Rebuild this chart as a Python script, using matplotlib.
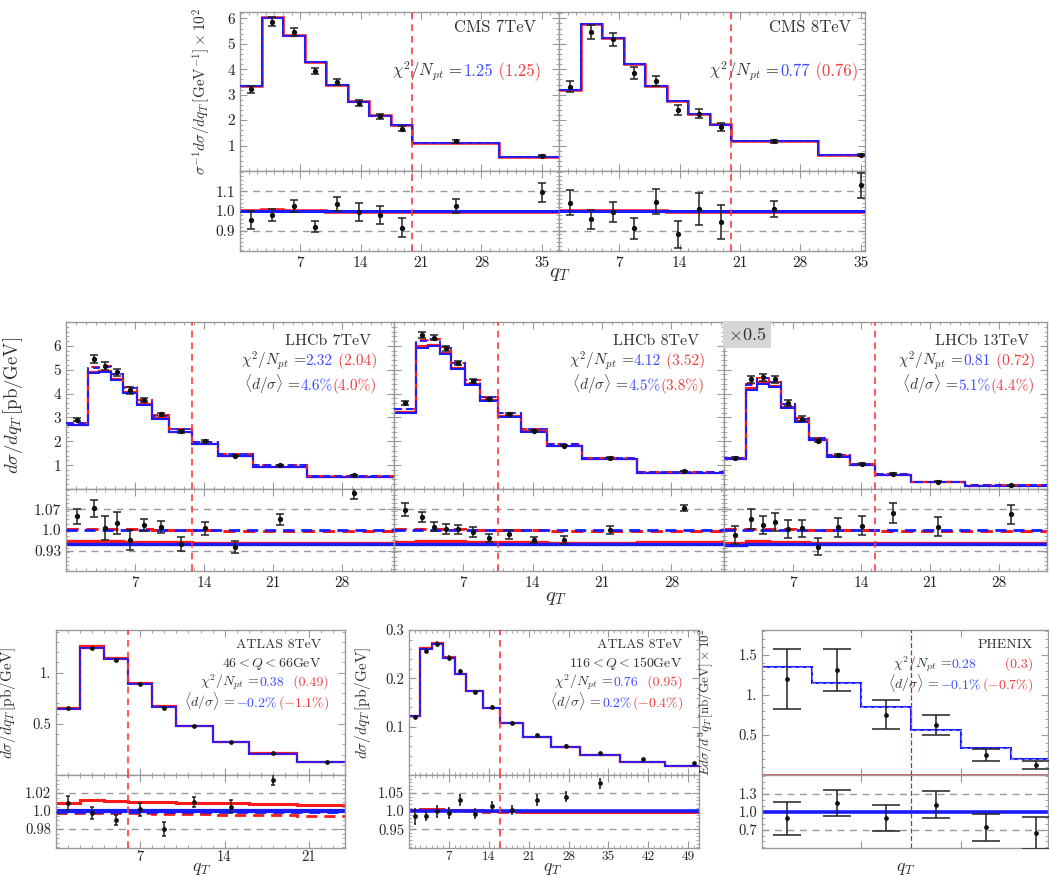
import matplotlib
matplotlib.use("Agg")
import matplotlib.pyplot as plt
from matplotlib.ticker import FixedLocator, FixedFormatter, MultipleLocator, NullFormatter

plt.rcParams["font.family"] = ["cmr10", "DejaVu Serif"]
plt.rcParams["mathtext.fontset"] = "cm"
plt.rcParams["axes.unicode_minus"] = False

# ---------------- data ----------------
# CMS (normalised, x 10^2)
cms_edges = [0, 2.5, 5, 7.5, 10, 12.5, 15, 17.5, 20, 30, 40]
cms_x = [1.25, 3.75, 6.25, 8.75, 11.25, 13.75, 16.25, 18.75, 25, 35]

cms7_data = [3.21, 5.87, 5.45, 3.93, 3.50, 2.69, 2.16, 1.66, 1.16, 0.60]
cms7_err = [0.15, 0.18, 0.16, 0.13, 0.12, 0.12, 0.10, 0.09, 0.04, 0.03]
cms7_blue = [3.35, 6.00, 5.32, 4.27, 3.38, 2.73, 2.18, 1.79, 1.12, 0.55]
cms7_red = [3.36, 6.05, 5.34, 4.28, 3.39, 2.74, 2.19, 1.80, 1.12, 0.55]
cms7_ratio = [0.954, 0.980, 1.026, 0.920, 1.035, 0.995, 0.980, 0.915, 1.025, 1.096]
cms7_ratio_err = [0.045, 0.030, 0.030, 0.030, 0.035, 0.045, 0.045, 0.050, 0.035, 0.050]
cms7_ratio_red = [1.000, 1.003, 1.001, 1.000, 0.997, 0.997, 0.997, 0.997, 0.997, 0.997]

cms8_data = [3.32, 5.47, 5.18, 3.84, 3.54, 2.40, 2.25, 1.73, 1.16, 0.64]
cms8_err = [0.20, 0.27, 0.26, 0.23, 0.21, 0.19, 0.18, 0.16, 0.05, 0.04]
cms8_blue = [3.19, 5.76, 5.22, 4.21, 3.35, 2.76, 2.24, 1.82, 1.16, 0.61]
cms8_red = [3.20, 5.78, 5.24, 4.22, 3.36, 2.77, 2.25, 1.83, 1.16, 0.61]
cms8_ratio = [1.043, 0.957, 0.993, 0.911, 1.048, 0.880, 1.010, 0.945, 1.010, 1.133]
cms8_ratio_err = [0.064, 0.048, 0.051, 0.055, 0.063, 0.070, 0.080, 0.087, 0.042, 0.064]
cms8_ratio_red = [1.000, 1.002, 1.001, 1.000, 0.998, 0.997, 0.997, 0.997, 0.997, 0.997]

# LHCb
lhcb_edges = [0, 2.2, 3.4, 4.6, 5.8, 7.2, 8.7, 10.5, 12.8, 15.4, 19.0, 24.5, 34.0]
lhcb_x = [1.1, 2.8, 4.0, 5.2, 6.5, 7.95, 9.6, 11.65, 14.1, 17.2, 21.75, 29.25]

lhcb7_data = [2.90, 5.45, 5.17, 4.89, 4.13, 3.74, 3.14, 2.42, 2.00, 1.40, 1.00, 0.58]
lhcb7_err = [0.07, 0.15, 0.17, 0.16, 0.13, 0.08, 0.06, 0.06, 0.04, 0.03, 0.02, 0.012]
lhcb7_blue_dash = [2.77, 5.08, 5.13, 4.82, 4.25, 3.70, 3.08, 2.53, 1.97, 1.47, 1.00, 0.54]
lhcb7_red_dash = [2.78, 5.10, 5.15, 4.83, 4.26, 3.71, 3.09, 2.53, 1.97, 1.46, 0.99, 0.54]
lhcb7_blue = [2.67, 4.85, 4.90, 4.57, 4.02, 3.53, 2.95, 2.38, 1.89, 1.37, 0.93, 0.50]
lhcb7_red = [2.69, 4.90, 4.95, 4.62, 4.07, 3.56, 2.97, 2.40, 1.90, 1.38, 0.94, 0.51]
lhcb7_ratio = [1.047, 1.073, 1.006, 1.023, 0.966, 1.017, 1.009, 0.952, 1.006, 0.942, 1.036, 1.124]
lhcb7_ratio_err = [0.025, 0.028, 0.040, 0.037, 0.033, 0.021, 0.020, 0.024, 0.022, 0.020, 0.019, 0.020]
lhcb7_ratio_red_dash = [1.003, 1.004, 1.004, 1.003, 1.002, 1.002, 1.001, 1.000, 0.999, 0.997, 0.995, 0.997]
lhcb7_ratio_blue = [0.953, 0.953, 0.953, 0.953, 0.953, 0.953, 0.953, 0.953, 0.953, 0.953, 0.953, 0.953]
lhcb7_ratio_red = [0.962, 0.963, 0.963, 0.962, 0.961, 0.960, 0.959, 0.958, 0.957, 0.956, 0.955, 0.957]

lhcb8_data = [3.60, 6.45, 6.35, 5.89, 5.27, 4.54, 3.77, 3.14, 2.45, 1.82, 1.31, 0.75]
lhcb8_err = [0.08, 0.11, 0.10, 0.10, 0.08, 0.08, 0.05, 0.05, 0.03, 0.025, 0.02, 0.01]
lhcb8_blue_dash = [3.35, 6.21, 6.28, 5.93, 5.29, 4.57, 3.87, 3.18, 2.52, 1.90, 1.31, 0.71]
lhcb8_red_dash = [3.36, 6.24, 6.30, 5.95, 5.30, 4.58, 3.87, 3.18, 2.52, 1.89, 1.30, 0.70]
lhcb8_blue = [3.20, 5.89, 5.98, 5.64, 5.03, 4.36, 3.69, 3.03, 2.41, 1.81, 1.25, 0.67]
lhcb8_red = [3.22, 5.98, 6.05, 5.70, 5.07, 4.40, 3.72, 3.05, 2.42, 1.82, 1.25, 0.68]
lhcb8_ratio = [1.068, 1.045, 1.011, 1.002, 1.002, 0.994, 0.972, 0.985, 0.966, 0.966, 1.000, 1.075]
lhcb8_ratio_err = [0.022, 0.017, 0.015, 0.017, 0.016, 0.017, 0.013, 0.015, 0.011, 0.013, 0.014, 0.011]
lhcb8_ratio_red_dash = [1.002, 1.004, 1.003, 1.003, 1.002, 1.001, 1.000, 1.000, 0.999, 0.998, 0.996, 0.996]
lhcb8_ratio_blue = [0.953, 0.953, 0.953, 0.953, 0.953, 0.953, 0.953, 0.953, 0.953, 0.953, 0.953, 0.953]
lhcb8_ratio_red = [0.960, 0.963, 0.964, 0.963, 0.962, 0.961, 0.960, 0.959, 0.958, 0.957, 0.956, 0.958]

lhcb13_data = [1.31, 4.60, 4.68, 4.60, 3.60, 2.95, 2.03, 1.42, 1.06, 0.63, 0.31, 0.15]
lhcb13_err = [0.04, 0.15, 0.15, 0.15, 0.11, 0.09, 0.06, 0.05, 0.035, 0.02, 0.01, 0.005]
lhcb13_blue_dash = [1.30, 4.38, 4.64, 4.49, 3.56, 2.95, 2.14, 1.43, 1.05, 0.62, 0.31, 0.15]
lhcb13_red_dash = [1.31, 4.40, 4.66, 4.50, 3.57, 2.96, 2.14, 1.43, 1.05, 0.62, 0.31, 0.15]
lhcb13_blue = [1.24, 4.17, 4.42, 4.28, 3.39, 2.81, 2.04, 1.36, 1.00, 0.59, 0.30, 0.14]
lhcb13_red = [1.25, 4.22, 4.47, 4.32, 3.42, 2.83, 2.05, 1.37, 1.01, 0.59, 0.30, 0.14]
lhcb13_ratio = [0.983, 1.036, 1.017, 1.028, 1.003, 1.006, 0.944, 1.009, 1.014, 1.058, 1.011, 1.053]
lhcb13_ratio_err = [0.031, 0.034, 0.031, 0.031, 0.031, 0.029, 0.028, 0.032, 0.032, 0.034, 0.032, 0.032]
lhcb13_ratio_red_dash = [1.002, 1.004, 1.004, 1.003, 1.002, 1.001, 1.000, 1.000, 0.999, 0.998, 0.997, 0.997]
lhcb13_ratio_blue = [0.950, 0.953, 0.953, 0.953, 0.953, 0.953, 0.953, 0.953, 0.953, 0.953, 0.953, 0.953]
lhcb13_ratio_red = [0.957, 0.962, 0.962, 0.960, 0.960, 0.958, 0.957, 0.956, 0.956, 0.956, 0.956, 0.956]

# ATLAS 8TeV, 46<Q<66
atl_lo_edges = [0, 2, 4, 6, 8, 10, 13, 16, 20, 25]
atl_lo_x = [1, 3, 5, 7, 9, 11.5, 14.5, 18, 22.5]
atl_lo_data = [0.650, 1.235, 1.120, 0.890, 0.655, 0.480, 0.320, 0.210, 0.130]
atl_lo_err = [0.005, 0.008, 0.006, 0.006, 0.005, 0.003, 0.002, 0.0015, 0.001]
atl_lo_blue = [0.645, 1.240, 1.130, 0.890, 0.665, 0.475, 0.318, 0.208, 0.122]
atl_lo_red = [0.650, 1.255, 1.145, 0.900, 0.672, 0.480, 0.321, 0.210, 0.123]
atl_lo_ratio = [1.009, 0.998, 0.990, 1.002, 0.980, 1.010, 1.005, 1.035, 1.060]
atl_lo_ratio_err = [0.008, 0.007, 0.0055, 0.0074, 0.008, 0.006, 0.007, 0.006, 0.008]
atl_lo_ratio_red = [1.009, 1.012, 1.011, 1.0105, 1.0095, 1.009, 1.0085, 1.008, 1.007]
atl_lo_ratio_red_dash = [0.998, 0.998, 0.998, 0.998, 0.997, 0.997, 0.996, 0.996, 0.995]

# ATLAS 8TeV, 116<Q<150
atl_hi_edges = [0, 2, 4, 6, 8, 10, 13, 16, 20, 25, 30, 37, 45, 55]
atl_hi_x = [1, 3, 5, 7, 9, 11.5, 14.5, 18, 22.5, 27.5, 33.5, 41, 50]
atl_hi_data = [0.120, 0.257, 0.272, 0.243, 0.215, 0.172, 0.140, 0.108, 0.082, 0.061, 0.045, 0.033, 0.024]
atl_hi_err = [0.002, 0.003, 0.004, 0.003, 0.003, 0.002, 0.002, 0.0015, 0.0012, 0.001, 0.0008, 0.0006, 0.0005]
atl_hi_blue = [0.122, 0.260, 0.272, 0.243, 0.208, 0.174, 0.138, 0.108, 0.079, 0.058, 0.042, 0.027, 0.018]
atl_hi_red = [0.123, 0.262, 0.274, 0.244, 0.209, 0.174, 0.138, 0.108, 0.079, 0.058, 0.042, 0.027, 0.018]
atl_hi_ratio = [0.986, 0.986, 1.000, 0.995, 1.031, 0.993, 1.014, 1.003, 1.031, 1.040, 1.077, 1.220, 1.330]
atl_hi_ratio_err = [0.021, 0.011, 0.015, 0.013, 0.013, 0.012, 0.012, 0.012, 0.015, 0.013, 0.013, 0.015, 0.020]
atl_hi_ratio_red = [1.004, 1.006, 1.006, 1.004, 1.003, 1.002, 1.001, 1.000, 0.999, 0.999, 0.999, 0.999, 0.999]
atl_hi_ratio_red_dash = [1.002, 1.003, 1.003, 1.002, 1.001, 1.000, 0.999, 0.998, 0.997, 0.997, 0.997, 0.997, 0.997]

# PHENIX
phx_edges = [0, 1, 2, 3, 4, 5, 6]
phx_x = [0.5, 1.5, 2.5, 3.5, 4.5, 5.5]
phx_data = [1.20, 1.31, 0.75, 0.625, 0.25, 0.125]
phx_err = [0.375, 0.26, 0.18, 0.13, 0.08, 0.045]
phx_blue = [1.35, 1.154, 0.846, 0.559, 0.34, 0.196]
phx_red = [0.006, 0.006, 0.005, 0.005, 0.005, 0.005]
phx_ratio = [0.89, 1.145, 0.89, 1.12, 0.74, 0.64]
phx_ratio_err = [0.28, 0.22, 0.22, 0.23, 0.23, 0.27]

# ---------------- style ----------------
W, H = 1049, 877
BLUE = "#1a1aff"
RED = "#ff1a1a"
TBLUE = "#3a4dff"
TRED = "#f03c3c"
TXT = "#333333"
FRAME = "#999999"
CUT = "#ff3b3b"

fig = plt.figure(figsize=(W / 100, H / 100), dpi=100)


def rect(x0, x1, y0, y1):
    return [x0 / W, 1 - y1 / H, (x1 - x0) / W, (y1 - y0) / H]


def style(ax, fs):
    for sp in ax.spines.values():
        sp.set_color(FRAME)
        sp.set_linewidth(1.0)
    ax.tick_params(which="both", direction="in", top=True, right=True,
                   color=FRAME, labelcolor="#222222", labelsize=fs)
    ax.tick_params(which="major", length=5, width=0.8)
    ax.tick_params(which="minor", length=2.5, width=0.6)


def panel(x0, x1, ytop, ysplit, ybot, xlim, ylim, rlim, fs=11):
    axm = fig.add_axes(rect(x0, x1, ytop, ysplit))
    axr = fig.add_axes(rect(x0, x1, ysplit, ybot))
    for ax in (axm, axr):
        style(ax, fs)
        ax.set_xlim(*xlim)
    axm.set_ylim(*ylim)
    axr.set_ylim(*rlim)
    axm.xaxis.set_major_formatter(NullFormatter())
    return axm, axr


def ticks(ax, axis, major, labels, minor=None):
    a = ax.xaxis if axis == "x" else ax.yaxis
    a.set_major_locator(FixedLocator(major))
    if labels is None:
        a.set_major_formatter(NullFormatter())
    else:
        a.set_major_formatter(FixedFormatter(labels))
    if minor is not None:
        a.set_minor_locator(MultipleLocator(minor))


def theory(ax, edges, vals, color, dashed=False, lw=1.6, z=2, alpha=1.0):
    ls = (0, (4, 2.5)) if dashed else "-"
    ax.stairs(vals, edges, baseline=None, color=color, lw=lw, ls=ls, zorder=z, alpha=alpha)


def points(ax, x, y, err, cap=3, ms=2.8):
    ax.errorbar(x, y, yerr=err, fmt="o", ms=ms, color="#111111", ecolor="#222222",
                elinewidth=1.1, capsize=cap, capthick=1.1, zorder=5)


def guides(axr, lo, hi):
    for v in (lo, hi):
        axr.axhline(v, color="#999999", lw=1.0, ls=(0, (5, 4)), zorder=1)


def cut(axes, x, lw=1.2):
    for ax in axes:
        ax.axvline(x, color=CUT, lw=lw, ls=(0, (4, 3)), zorder=6)


def chain(ax, x, y, parts, fs):
    prev = None
    for s, c in reversed(parts):
        if prev is None:
            prev = ax.text(x / W, 1 - y / H, s, color=c, fontsize=fs, ha="right",
                           va="baseline", transform=fig.transFigure)
        else:
            prev = ax.annotate(s, xy=(0, 1 - y / H), xycoords=(prev, "figure fraction"),
                               color=c, fontsize=fs, ha="right", va="baseline",
                               annotation_clip=False)


# ---------------- row 1: CMS ----------------
c7m, c7r = panel(240, 559, 12, 171, 251, (0, 37), (0, 6.25), (0.795, 1.205))
c8m, c8r = panel(559, 865, 12, 171, 251, (0, 35.5), (0, 6.25), (0.795, 1.205))
for axm, axr, lab in ((c7m, c7r, True), (c8m, c8r, False)):
    ticks(axm, "y", [1, 2, 3, 4, 5, 6], ["1", "2", "3", "4", "5", "6"] if lab else None, 0.2)
    ticks(axr, "y", [0.9, 1.0, 1.1], ["0.9", "1.0", "1.1"] if lab else None, 0.02)
    ticks(axm, "x", [7, 14, 21, 28, 35], None, 1)
    ticks(axr, "x", [7, 14, 21, 28, 35], ["7", "14", "21", "28", "35"], 1)
    guides(axr, 0.9, 1.1)

for axm, axr, data, err, blue, red, rat, rerr, rred in (
        (c7m, c7r, cms7_data, cms7_err, cms7_blue, cms7_red, cms7_ratio, cms7_ratio_err, cms7_ratio_red),
        (c8m, c8r, cms8_data, cms8_err, cms8_blue, cms8_red, cms8_ratio, cms8_ratio_err, cms8_ratio_red)):
    theory(axm, cms_edges, red, RED, lw=1.8)
    theory(axm, cms_edges, blue, BLUE, lw=1.5, z=3)
    theory(axm, cms_edges, blue, RED, dashed=True, lw=1.0, z=3.5, alpha=0.35)
    points(axm, cms_x, data, err)
    theory(axr, cms_edges, rred, RED, lw=2.6)
    theory(axr, cms_edges, [1.0] * len(cms_x), BLUE, lw=2.2, z=3)
    points(axr, cms_x, rat, rerr)
    cut((axm, axr), 20)

c7m.set_ylabel(r"$\sigma^{-1}d\sigma/dq_T\,[\mathrm{GeV}^{-1}]\times10^2$", fontsize=11, color=TXT)
c7m.yaxis.set_label_coords(-0.085, 0.5)
fig.text(560 / W, 1 - 274 / H, r"$q_T$", fontsize=15, ha="center", va="center", color=TXT)

chain(c7m, 536, 32, [("CMS 7TeV", TXT)], 12)
chain(c7m, 541, 76, [(r"$\chi^2/N_{pt}$ =", TXT), ("1.25", TBLUE), (" (1.25)", TRED)], 12)
chain(c8m, 851, 32, [("CMS 8TeV", TXT)], 12)
chain(c8m, 858, 76, [(r"$\chi^2/N_{pt}$ =", TXT), ("0.77", TBLUE), (" (0.76)", TRED)], 12)

# ---------------- row 2: LHCb ----------------
l7m, l7r = panel(66, 394, 322, 489, 571, (0, 33.3), (0, 7), (0.861, 1.139))
l8m, l8r = panel(394, 724, 322, 489, 571, (0, 33.3), (0, 7), (0.861, 1.139))
l13m, l13r = panel(724, 1047, 322, 489, 571, (0, 32.9), (0, 7), (0.861, 1.139))

lhcb_sets = (
    (l7m, l7r, True, lhcb7_data, lhcb7_err, lhcb7_blue_dash, lhcb7_red_dash, lhcb7_blue, lhcb7_red,
     lhcb7_ratio, lhcb7_ratio_err, lhcb7_ratio_red_dash, lhcb7_ratio_blue, lhcb7_ratio_red, 12.8),
    (l8m, l8r, False, lhcb8_data, lhcb8_err, lhcb8_blue_dash, lhcb8_red_dash, lhcb8_blue, lhcb8_red,
     lhcb8_ratio, lhcb8_ratio_err, lhcb8_ratio_red_dash, lhcb8_ratio_blue, lhcb8_ratio_red, 10.5),
    (l13m, l13r, False, lhcb13_data, lhcb13_err, lhcb13_blue_dash, lhcb13_red_dash, lhcb13_blue, lhcb13_red,
     lhcb13_ratio, lhcb13_ratio_err, lhcb13_ratio_red_dash, lhcb13_ratio_blue, lhcb13_ratio_red, 15.4),
)
for (axm, axr, lab, data, err, bd, rd, bs, rs, rat, rerr, rrd, rbs, rrs, xc) in lhcb_sets:
    ticks(axm, "y", [1, 2, 3, 4, 5, 6], ["1", "2", "3", "4", "5", "6"] if lab else None, 0.2)
    ticks(axr, "y", [0.93, 1.0, 1.07], ["0.93", "1.0", "1.07"] if lab else None, 0.014)
    ticks(axm, "x", [7, 14, 21, 28], None, 1)
    ticks(axr, "x", [7, 14, 21, 28], ["7", "14", "21", "28"], 1)
    guides(axr, 0.93, 1.07)
    theory(axm, lhcb_edges, rs, RED, lw=1.6)
    theory(axm, lhcb_edges, bs, BLUE, lw=1.5, z=2.2)
    theory(axm, lhcb_edges, rd, RED, dashed=True, lw=1.5, z=2.4)
    theory(axm, lhcb_edges, bd, BLUE, dashed=True, lw=1.3, z=2.6)
    points(axm, lhcb_x, data, err)
    theory(axr, lhcb_edges, rrs, RED, lw=2.4)
    theory(axr, lhcb_edges, rbs, BLUE, lw=2.4, z=2.2)
    theory(axr, lhcb_edges, rrd, RED, dashed=True, lw=2.2, z=2.4)
    theory(axr, lhcb_edges, [1.0] * len(lhcb_x), BLUE, dashed=True, lw=2.0, z=2.6)
    points(axr, lhcb_x, rat, rerr)
    cut((axm, axr), xc)

l7m.set_ylabel(r"$d\sigma/dq_T\,[\mathrm{pb/GeV}]$", fontsize=13.5, color=TXT)
l7m.yaxis.set_label_coords(-0.125, 0.5)
fig.text(556 / W, 1 - 598 / H, r"$q_T$", fontsize=15, ha="center", va="center", color=TXT)
l13m.text(0.013, 0.975, r"$\times$0.5", transform=l13m.transAxes, ha="left", va="top",
          fontsize=13, color=TXT, bbox=dict(facecolor="#d6d6d6", edgecolor="none", pad=3.5))

for axm, xr, title, chi_b, chi_r, d_b, d_r in (
        (l7m, 377, "LHCb 7TeV", "2.32", " (2.04)", "4.6%", "(4.0%)"),
        (l8m, 705, "LHCb 8TeV", "4.12", " (3.52)", "4.5%", "(3.8%)"),
        (l13m, 1035, "LHCb 13TeV", "0.81", " (0.72)", "5.1%", "(4.4%)")):
    chain(axm, xr - 6, 345, [(title, TXT)], 11.5)
    chain(axm, xr, 365, [(r"$\chi^2/N_{pt}$ =", TXT), (chi_b, TBLUE), (chi_r, TRED)], 11)
    chain(axm, xr, 390, [(r"$\langle d/\sigma\rangle$ =", TXT), (d_b, TBLUE), (d_r, TRED)], 11)

# ---------------- row 3: ATLAS and PHENIX ----------------
alm, alr = panel(56, 345, 630, 775, 848, (0, 24), (0, 1.415), (0.959, 1.04), fs=10.5)
ticks(alm, "y", [0.5, 1.0], ["0.5", "1."], 0.1)
ticks(alr, "y", [0.98, 1.0, 1.02], ["0.98", "1.0", "1.02"], 0.005)
ticks(alm, "x", [7, 14, 21], None, 1)
ticks(alr, "x", [7, 14, 21], ["7", "14", "21"], 1)
guides(alr, 0.98, 1.02)
theory(alm, atl_lo_edges, atl_lo_red, RED, lw=1.6)
theory(alm, atl_lo_edges, atl_lo_blue, BLUE, lw=1.5, z=2.2)
theory(alm, atl_lo_edges, atl_lo_blue, RED, dashed=True, lw=1.0, z=2.4, alpha=0.35)
points(alm, atl_lo_x, atl_lo_data, atl_lo_err, cap=1.5, ms=2.4)
theory(alr, atl_lo_edges, atl_lo_ratio_red, RED, lw=2.2)
theory(alr, atl_lo_edges, atl_lo_ratio_red_dash, RED, dashed=True, lw=2.0, z=2.2)
theory(alr, atl_lo_edges, [1.0] * len(atl_lo_x), BLUE, lw=3.0, z=2.4)
theory(alr, atl_lo_edges, [0.9985] * len(atl_lo_x), BLUE, dashed=True, lw=2.0, z=2.6)
points(alr, atl_lo_x, atl_lo_ratio, atl_lo_ratio_err, cap=1.5, ms=2.4)
cut((alm, alr), 6)
alm.set_ylabel(r"$d\sigma/dq_T\,[\mathrm{pb/GeV}]$", fontsize=11, color=TXT)
alm.yaxis.set_label_coords(-0.13, 0.5)
chain(alm, 321, 648, [("ATLAS 8TeV", TXT)], 10)
chain(alm, 321, 667, [(r"$46<Q<66$GeV", TXT)], 10)
chain(alm, 329, 686, [(r"$\chi^2/N_{pt}$ =", TXT), ("0.38", TBLUE), ("  (0.49)", TRED)], 10)
chain(alm, 329, 707, [(r"$\langle d/\sigma\rangle$ =", TXT), (r"$-$0.2%", TBLUE), (r"($-$1.1%)", TRED)], 10)

ahm, ahr = panel(409, 699, 630, 775, 848, (0, 50.9), (0, 0.3), (0.898, 1.1), fs=10.5)
ticks(ahm, "y", [0.1, 0.2, 0.3], ["0.1", "0.2", "0.3"], 0.02)
ticks(ahr, "y", [0.95, 1.0, 1.05], ["0.95", "1.0", "1.05"], 0.01)
ticks(ahm, "x", [7, 14, 21, 28, 35, 42, 49], None, 1)
ticks(ahr, "x", [7, 14, 21, 28, 35, 42, 49], ["7", "14", "21", "28", "35", "42", "49"], 1)
ahr.tick_params(axis="x", labelsize=9.5)
guides(ahr, 0.95, 1.05)
theory(ahm, atl_hi_edges, atl_hi_red, RED, lw=1.6)
theory(ahm, atl_hi_edges, atl_hi_blue, BLUE, lw=1.5, z=2.2)
theory(ahm, atl_hi_edges, atl_hi_blue, RED, dashed=True, lw=1.0, z=2.4, alpha=0.35)
points(ahm, atl_hi_x, atl_hi_data, atl_hi_err, cap=1.0, ms=2.4)
theory(ahr, atl_hi_edges, atl_hi_ratio_red, RED, lw=2.2)
theory(ahr, atl_hi_edges, atl_hi_ratio_red_dash, RED, dashed=True, lw=2.0, z=2.2)
theory(ahr, atl_hi_edges, [1.0] * len(atl_hi_x), BLUE, lw=2.6, z=2.4)
points(ahr, atl_hi_x, atl_hi_ratio, atl_hi_ratio_err, cap=1.0, ms=2.4)
cut((ahm, ahr), 16)
ahm.set_ylabel(r"$d\sigma/dq_T\,[\mathrm{pb/GeV}]$", fontsize=11, color=TXT)
ahm.yaxis.set_label_coords(-0.125, 0.5)
chain(ahm, 682, 648, [("ATLAS 8TeV", TXT)], 10)
chain(ahm, 682, 667, [(r"$116<Q<150$GeV", TXT)], 10)
chain(ahm, 683, 686, [(r"$\chi^2/N_{pt}$ =", TXT), ("0.76", TBLUE), ("  (0.95)", TRED)], 10)
chain(ahm, 683, 707, [(r"$\langle d/\sigma\rangle$ =", TXT), ("0.2%", TBLUE), (r"($-$0.4%)", TRED)], 10)

pm, pr = panel(762, 1048, 630, 775, 848, (0, 5.75), (0, 1.81), (0.39, 1.62), fs=10.5)
ticks(pm, "y", [0.5, 1.0, 1.5], ["0.5", "1.", "1.5"], 0.1)
ticks(pr, "y", [0.7, 1.0, 1.3], ["0.7", "1.0", "1.3"], 0.1)
ticks(pm, "x", [2, 4], None)
ticks(pr, "x", [2, 4], None)
pm.xaxis.set_minor_locator(FixedLocator([]))
pr.xaxis.set_minor_locator(FixedLocator([]))
guides(pr, 0.7, 1.3)
theory(pm, phx_edges, phx_red, RED, lw=1.8)
theory(pm, phx_edges, phx_blue, BLUE, lw=1.5, z=2.2)
theory(pm, phx_edges, phx_blue, "#8888ff", dashed=True, lw=0.8, z=2.4)
points(pm, phx_x, phx_data, phx_err, cap=10, ms=2.4)
theory(pr, phx_edges, [1.0] * len(phx_x), BLUE, lw=2.6)
points(pr, phx_x, phx_ratio, phx_ratio_err, cap=10, ms=2.4)
for ax, col in ((pm, "#cc2222"), (pr, "#555555")):
    ax.axvline(3, color=col, lw=0.9, ls=(0, (4, 2)), zorder=6)
pm.set_ylabel(r"$Ed\sigma/d^3q_T\,[\mathrm{nb/GeV}]\times10^2$", fontsize=9.5, color=TXT)
pm.yaxis.set_label_coords(-0.165, 0.5)
chain(pm, 1033, 648, [("PHENIX", TXT)], 10)
chain(pm, 1033, 668, [(r"$\chi^2/N_{pt}$ =", TXT), ("0.28", TBLUE), ("      (0.3)", TRED)], 10)
chain(pm, 1033, 689, [(r"$\langle d/\sigma\rangle$ =", TXT), (r"$-$0.1%", TBLUE), (r"($-$0.7%)", TRED)], 10)

# row-3 tick labels sit close to the frame, q_T just below them
for ax in (alr, ahr, pr):
    ax.tick_params(axis="x", pad=2)
for xc in (201, 552, 905):
    fig.text(xc / W, 1 - 869 / H, r"$q_T$", fontsize=13, ha="center", va="center", color=TXT)

fig.savefig("out.png", dpi=100)
